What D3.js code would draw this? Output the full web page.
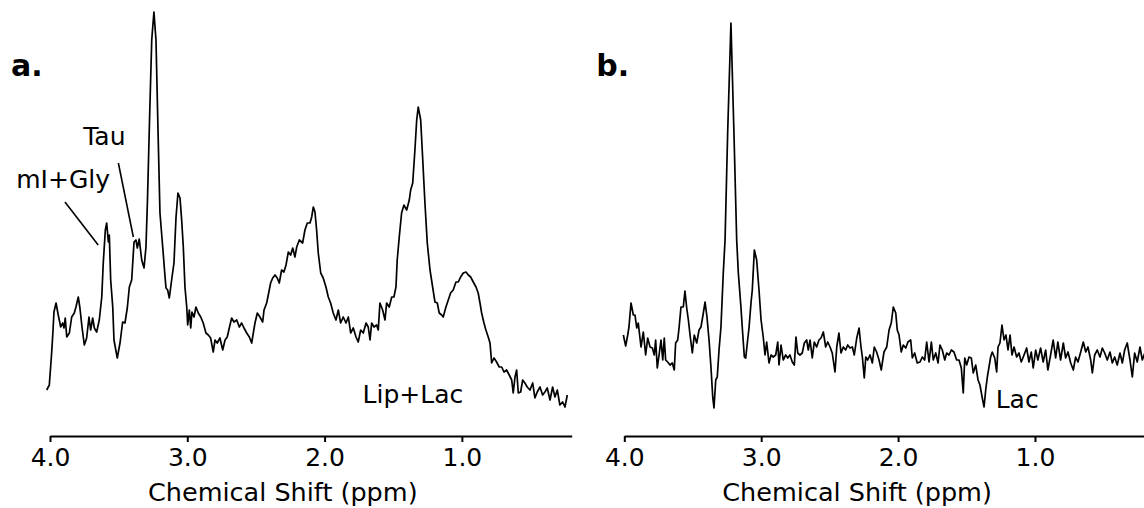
<!DOCTYPE html>
<html lang="en">
<meta charset="utf-8"/>
<head>
<style>
  body { margin: 0; background: #fff; }
  svg { display: block; }
  text { font-family: "DejaVu Sans", Verdana, sans-serif; fill: #000; }
  .tick text { font-size: 25px; }
  .axis path, .axis line { stroke: #000; stroke-width: 2; }
  .spectrum { fill: none; stroke: #000; stroke-width: 1.7; stroke-linejoin: round; }
  .lead { stroke: #000; stroke-width: 1.6; }
</style>
</head>
<body>
<svg width="1144" height="508"></svg>

<script src="https://cdnjs.cloudflare.com/ajax/libs/d3/7.8.5/d3.min.js"></script>
<script>
// panel a: spectrum (ppm, signal a.u.)
let ppmA = [4.024,4.005,3.988,3.980,3.971,3.956,3.940,3.922,3.908,3.898,
  3.889,3.878,3.859,3.842,3.823,3.811,3.794,3.782,3.767,3.750,
  3.733,3.716,3.704,3.689,3.677,3.660,3.641,3.623,3.612,3.597,
  3.587,3.575,3.568,3.558,3.543,3.534,3.510,3.490,3.471,3.454,
  3.437,3.422,3.405,3.388,3.374,3.364,3.350,3.332,3.315,3.301,
  3.290,3.275,3.259,3.243,3.228,3.215,3.199,3.179,3.162,3.155,
  3.143,3.131,3.114,3.097,3.082,3.068,3.053,3.041,3.029,3.017,
  3.004,2.997,2.985,2.975,2.966,2.951,2.937,2.920,2.902,2.884,
  2.864,2.847,2.830,2.811,2.798,2.782,2.762,2.742,2.725,2.709,
  2.694,2.677,2.660,2.640,2.621,2.604,2.587,2.567,2.548,2.531,
  2.519,2.507,2.490,2.471,2.451,2.441,2.422,2.410,2.393,2.378,
  2.361,2.345,2.330,2.313,2.296,2.281,2.264,2.247,2.232,2.216,
  2.203,2.184,2.160,2.143,2.126,2.106,2.094,2.082,2.070,2.058,
  2.046,2.028,2.010,1.990,1.973,1.956,1.937,1.917,1.900,1.883,
  1.864,1.844,1.827,1.810,1.791,1.771,1.755,1.737,1.718,1.698,
  1.682,1.669,1.657,1.640,1.621,1.609,1.597,1.577,1.560,1.548,
  1.529,1.511,1.495,1.480,1.471,1.456,1.439,1.422,1.402,1.383,
  1.373,1.358,1.342,1.329,1.318,1.300,1.286,1.269,1.252,1.232,
  1.213,1.196,1.179,1.165,1.147,1.136,1.116,1.099,1.082,1.063,
  1.043,1.026,1.009,0.990,0.970,0.953,0.936,0.917,0.897,0.881,
  0.868,0.856,0.839,0.825,0.808,0.795,0.783,0.766,0.747,0.728,
  0.710,0.693,0.674,0.655,0.637,0.626,0.613,0.601,0.589,0.572,
  0.557,0.541,0.524,0.504,0.484,0.468,0.451,0.431,0.412,0.395,
  0.378,0.358,0.339,0.322,0.305,0.286,0.266,0.249,0.232]
let sigA = [46,51,83,101,124,133,121,109,113,108,
  118,99,103,119,123,129,139,128,109,91,
  98,119,106,118,108,104,116,139,173,206,
  213,194,201,156,129,96,78,93,114,113,
  128,149,156,194,196,188,197,176,168,189,
  236,316,396,424,396,316,223,189,159,148,
  146,138,156,173,219,243,238,216,189,149,
  129,111,126,108,124,119,129,123,119,113,
  103,101,98,84,96,93,98,86,96,99,
  108,118,114,116,109,113,108,103,99,93,
  103,113,123,119,114,126,133,141,153,158,
  161,158,153,166,164,171,184,181,188,179,
  189,196,193,206,213,213,219,229,224,206,
  183,163,158,149,139,133,123,116,126,113,
  119,113,119,103,108,99,94,106,103,113,
  109,96,113,109,111,106,133,126,116,133,
  129,139,139,149,176,199,223,231,226,236,
  246,253,286,316,329,316,279,233,193,166,
  149,134,133,123,121,119,129,136,143,146,
  154,154,159,163,164,161,159,154,149,143,
  133,123,113,106,99,93,73,78,74,69,
  69,64,66,61,56,43,59,66,43,44,
  56,53,49,46,53,38,44,49,41,44,
  48,36,49,39,46,31,34,29,41]

// panel b
let ppmB = [4.007,3.990,3.975,3.966,3.951,3.934,3.922,3.909,3.898,3.878,
  3.861,3.844,3.829,3.812,3.795,3.781,3.771,3.759,3.744,3.732,
  3.719,3.708,3.698,3.683,3.666,3.649,3.635,3.625,3.610,3.600,
  3.586,3.569,3.557,3.544,3.532,3.518,3.503,3.489,3.471,3.454,
  3.440,3.425,3.410,3.396,3.381,3.367,3.354,3.345,3.332,3.321,
  3.308,3.294,3.277,3.264,3.245,3.221,3.199,3.179,3.167,3.148,
  3.138,3.123,3.113,3.099,3.089,3.074,3.065,3.050,3.033,3.016,
  3.001,2.985,2.972,2.960,2.943,2.928,2.912,2.894,2.879,2.870,
  2.855,2.839,2.821,2.806,2.790,2.773,2.758,2.746,2.733,2.717,
  2.700,2.685,2.668,2.656,2.643,2.627,2.612,2.595,2.578,2.563,
  2.546,2.529,2.514,2.497,2.481,2.461,2.448,2.432,2.417,2.400,
  2.383,2.368,2.351,2.334,2.320,2.302,2.285,2.271,2.261,2.247,
  2.236,2.222,2.205,2.188,2.174,2.157,2.139,2.123,2.103,2.083,
  2.066,2.050,2.035,2.017,2.006,1.993,1.977,1.962,1.944,1.928,
  1.908,1.896,1.879,1.860,1.840,1.823,1.806,1.791,1.774,1.757,
  1.743,1.725,1.708,1.694,1.677,1.659,1.645,1.628,1.611,1.592,
  1.572,1.555,1.538,1.524,1.513,1.499,1.482,1.465,1.451,1.433,
  1.416,1.402,1.385,1.372,1.360,1.348,1.336,1.324,1.312,1.294,
  1.280,1.270,1.256,1.241,1.226,1.212,1.197,1.182,1.168,1.153,
  1.134,1.117,1.100,1.080,1.061,1.044,1.027,1.013,0.995,0.979,
  0.959,0.940,0.922,0.906,0.886,0.867,0.849,0.833,0.813,0.793,
  0.776,0.759,0.739,0.720,0.703,0.686,0.666,0.647,0.629,0.613,
  0.593,0.581,0.564,0.545,0.525,0.508,0.491,0.472,0.452,0.435,
  0.418,0.399,0.379,0.362,0.345,0.326,0.306,0.289,0.272,0.253,
  0.233,0.216,0.190]
let sigB = [101,90,101,109,133,121,121,108,113,89,
  104,81,98,89,88,81,96,68,83,96,
  76,98,76,74,71,73,66,93,96,108,
  129,129,145,128,116,99,83,101,93,106,
  109,121,134,119,96,69,39,28,56,59,
  86,109,163,196,303,413,303,196,163,129,
  108,79,78,96,108,134,146,186,176,146,
  116,99,81,94,73,81,79,81,94,71,
  91,76,81,78,81,74,71,99,83,81,
  83,93,96,86,96,78,94,89,96,98,
  104,89,94,89,83,64,89,103,83,89,
  86,91,88,89,81,98,108,89,79,58,
  79,76,81,73,89,84,76,66,84,89,
  106,113,129,123,106,101,84,91,88,94,
  96,78,83,73,74,79,76,94,74,94,
  76,83,73,91,86,76,83,81,86,84,
  76,76,68,43,78,71,79,78,63,71,
  56,51,38,29,46,59,69,79,84,78,
  64,89,93,111,96,101,86,101,81,89,
  79,83,74,81,88,74,84,68,86,76,
  88,74,86,66,81,96,78,94,76,93,
  78,84,73,66,79,74,84,94,84,89,
  76,63,81,86,79,88,83,76,84,73,
  79,71,83,73,86,93,76,59,83,74,
  89,76,86]

let ppmTicks = [4.0, 3.0, 2.0, 1.0]
let panelNames = ["a.", "b."]
let axisTitle = "Chemical Shift (ppm)"

// peak labels: [panel, text, ppm, signal]
let peakLabels = [
  [0, "mI+Gly", 4.246, 248],
  [0, "Tau", 3.758, 291],
  [0, "Lip+Lac", 1.723, 33],
  [1, "Lac", 1.287, 28]
]
// leader lines: [panel, ppm1, sig1, ppm2, sig2]
let leaders = [
  [0, 3.891, 234, 3.649, 191],
  [0, 3.502, 273, 3.393, 199]
]

let svg = d3.select("svg")
let axisY = 436
let panels = [
  { left: 50, right: 571.7 },
  { left: 624.3, right: 1144.5 }
]
let series = [[ppmA, sigA], [ppmB, sigB]]

let yScale = d3.scaleLinear().domain([0, 430]).range([axisY, 6])

panels.forEach((p, i) => {
  let xScale = d3.scaleLinear().domain([4.0, 0.2]).range([p.left, p.right])
  let g = svg.append("g")

  g.append("g")
    .attr("class", "axis")
    .attr("transform", "translate(0," + axisY + ")")
    .call(d3.axisBottom(xScale).tickValues(ppmTicks).tickFormat(d3.format(".1f"))
      .tickSize(6).tickSizeOuter(0).tickPadding(6))
    .call(a => a.selectAll(".tick text").attr("font-family", null).attr("font-size", null))

  let pts = d3.zip(series[i][0], series[i][1])
  g.append("path")
    .datum(pts)
    .attr("class", "spectrum")
    .attr("d", d3.line().x(d => xScale(d[0])).y(d => yScale(d[1])))

  g.append("text")
    .attr("x", p.left + 98)
    .attr("y", 501)
    .style("font-size", "25.5px")
    .text(axisTitle)

  g.append("text")
    .attr("x", p.left - 39 + i * 11)
    .attr("y", 76)
    .style("font-size", "30px")
    .style("font-weight", "bold")
    .text(panelNames[i])

  peakLabels.filter(l => l[0] == i).forEach(l => {
    g.append("text")
      .attr("x", xScale(l[2]))
      .attr("y", yScale(l[3]))
      .style("font-size", "25px")
      .text(l[1])
  })

  leaders.filter(l => l[0] == i).forEach(l => {
    g.append("line")
      .attr("class", "lead")
      .attr("x1", xScale(l[1])).attr("y1", yScale(l[2]))
      .attr("x2", xScale(l[3])).attr("y2", yScale(l[4]))
  })
})
</script>
</body>
</html>
